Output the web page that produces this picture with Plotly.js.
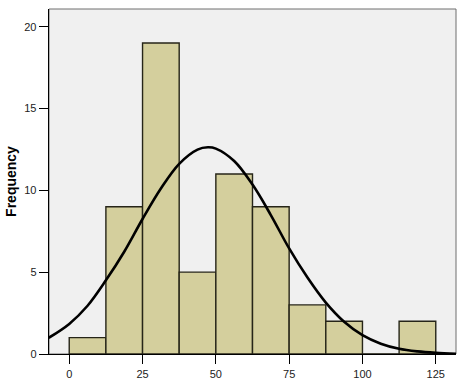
<!DOCTYPE html>
<html>
<head>
<meta charset="utf-8">
<script src="https://cdn.plot.ly/plotly-3.0.1.min.js"></script>
<style>html,body{margin:0;padding:0;background:#fff;}#chart{width:459px;height:381px;}</style>
</head>
<body>
<div id="chart"></div>
<script>
// Histogram bins (bin centers, width 12.5) and frequencies
const binCenters = [6.25, 18.75, 31.25, 43.75, 56.25, 68.75, 81.25, 93.75, 106.25, 118.75];
const frequencies = [1, 9, 19, 5, 11, 9, 3, 2, 0, 2];
// Normal curve points
const curveX = [-7, 0, 6.25, 12.5, 18.75, 25, 31.25, 37.5, 43.75, 47.3, 50, 56.25, 62.5, 68.75, 75, 81.25, 87.5, 93.75, 100, 106.25, 112.5, 118.75, 125, 132];
const curveY = [0.99, 1.84, 2.95, 4.5, 6.25, 8.25, 10.11, 11.62, 12.49, 12.63, 12.55, 11.79, 10.35, 8.49, 6.45, 4.67, 3.14, 1.97, 1.15, 0.63, 0.32, 0.16, 0.07, 0.01];
const xTicks = [0, 25, 50, 75, 100, 125];
const yTicks = [0, 5, 10, 15, 20];

const traces = [
  {
    type: 'bar', x: binCenters, y: frequencies, width: 12.5,
    marker: {color: '#d4cf9d', line: {color: '#262518', width: 1.4}},
    hoverinfo: 'x+y'
  },
  {
    type: 'scatter', mode: 'lines', x: curveX, y: curveY,
    line: {color: '#000000', width: 2.6, shape: 'spline', smoothing: 1.0}
  }
];

const tickFont = {family: 'Liberation Sans, Arial, sans-serif', size: 11, color: '#222'};
const layout = {
  width: 459, height: 381,
  margin: {l: 49, r: 3, t: 9, b: 27},
  paper_bgcolor: '#ffffff', plot_bgcolor: '#f0f0f0',
  showlegend: false, bargap: 0,
  xaxis: {
    range: [-6.9, 131.9], tickvals: xTicks, ticktext: xTicks.map(String),
    ticks: 'outside', ticklen: 9, tickwidth: 1, tickcolor: '#000',
    showline: true, linecolor: '#000', linewidth: 1.3,
    showgrid: false, zeroline: false, tickfont: tickFont
  },
  yaxis: {
    range: [0, 21.08], tickvals: yTicks, ticktext: yTicks.map(String),
    ticks: 'outside', ticklen: 9, tickwidth: 1, tickcolor: '#000',
    showline: true, linecolor: '#000', linewidth: 1.3,
    showgrid: false, zeroline: false, tickfont: tickFont,
    title: {text: '<b>Frequency</b>', font: {family: 'Liberation Sans, Arial, sans-serif', size: 14, color: '#000'}, standoff: 4}
  },
  shapes: [{
    type: 'rect', xref: 'paper', yref: 'paper', x0: 0, x1: 1, y0: 0, y1: 1,
    line: {color: '#6e6e6e', width: 1}, layer: 'below'
  }]
};
Plotly.newPlot('chart', traces, layout, {displayModeBar: false, staticPlot: true});
</script>
</body>
</html>
